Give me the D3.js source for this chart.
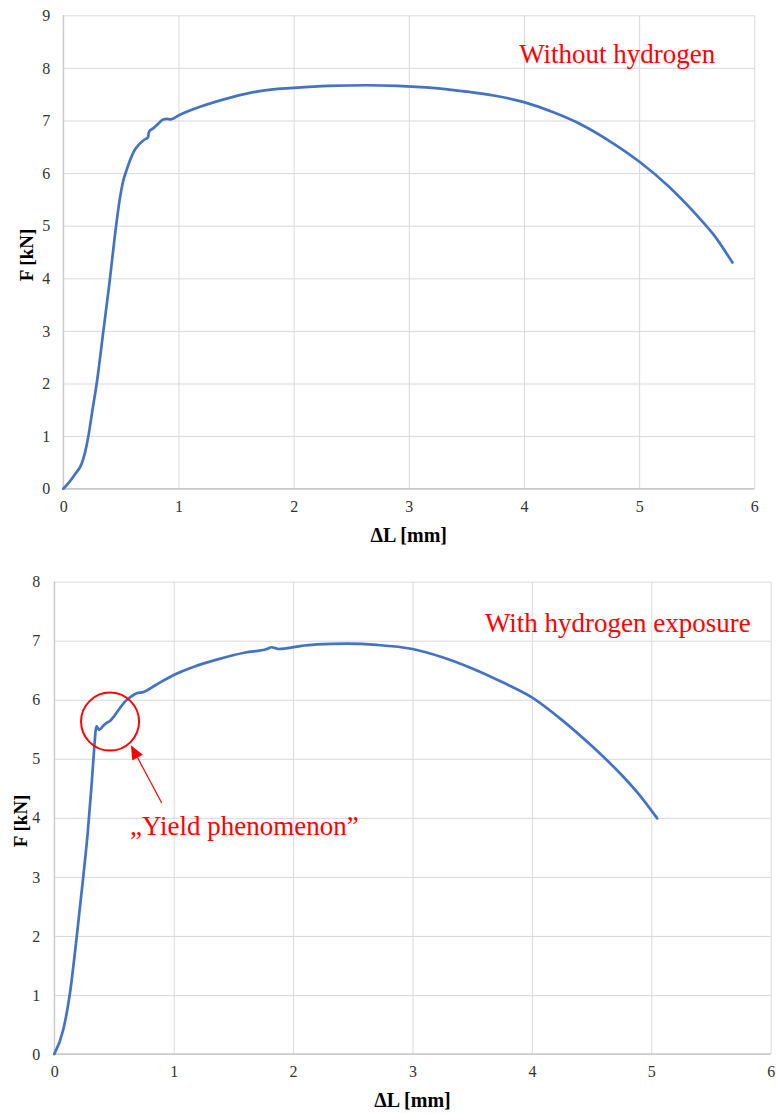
<!DOCTYPE html>
<html>
<head>
<meta charset="utf-8">
<script src="https://cdn.jsdelivr.net/npm/d3@7"></script>
<style>
body{margin:0;background:#fff}
svg text{font-family:"Liberation Serif","Times New Roman",serif}
</style>
</head>
<body>
<svg id="chart" width="777" height="1113" font-family="Liberation Serif, serif"></svg>
<script>
// top curve: without hydrogen
const dlTop = [0, 0.05, 0.10, 0.16, 0.19, 0.217, 0.25, 0.29, 0.347, 0.40, 0.45, 0.49, 0.52, 0.55, 0.58, 0.62, 0.66, 0.70, 0.735, 0.745, 0.78, 0.82, 0.868, 0.90, 0.93, 1.013, 1.187, 1.476, 1.707, 2.0, 2.3, 2.63, 2.9, 3.15, 3.5, 3.75, 4.0, 4.25, 4.5, 4.75, 5.0, 5.25, 5.5, 5.65, 5.81]
const fTop = [0, 0.12, 0.27, 0.48, 0.70, 0.99, 1.45, 2.0, 2.98, 3.90, 4.85, 5.50, 5.85, 6.06, 6.25, 6.44, 6.55, 6.63, 6.68, 6.79, 6.85, 6.93, 7.02, 7.03, 7.02, 7.11, 7.26, 7.45, 7.56, 7.62, 7.66, 7.67, 7.66, 7.63, 7.55, 7.47, 7.35, 7.16, 6.92, 6.60, 6.22, 5.76, 5.20, 4.82, 4.30]

// bottom curve: with hydrogen exposure
const dlBottom = [0, 0.075, 0.131, 0.188, 0.243, 0.28, 0.31, 0.335, 0.347, 0.355, 0.377, 0.41, 0.439, 0.466, 0.50, 0.55, 0.592, 0.64, 0.69, 0.745, 0.85, 1.0, 1.17, 1.36, 1.6, 1.78, 1.82, 1.876, 2.06, 2.2, 2.45, 2.7, 3.0, 3.25, 3.5, 3.75, 4.0, 4.25, 4.5, 4.75, 4.9, 5.05]
const fBottom = [0, 0.41, 1.03, 1.99, 3.01, 3.75, 4.50, 5.20, 5.49, 5.55, 5.49, 5.56, 5.61, 5.64, 5.72, 5.86, 5.97, 6.05, 6.11, 6.13, 6.25, 6.42, 6.56, 6.68, 6.80, 6.86, 6.89, 6.86, 6.91, 6.94, 6.95, 6.93, 6.86, 6.72, 6.53, 6.30, 6.04, 5.66, 5.22, 4.73, 4.39, 3.99]

const xTicks = [0, 1, 2, 3, 4, 5, 6]
const yTicksTop = [0, 1, 2, 3, 4, 5, 6, 7, 8, 9]
const yTicksBottom = [0, 1, 2, 3, 4, 5, 6, 7, 8]

const xTitle = "ΔL [mm]"
const yTitle = "F [kN]"
const labelTop = "Without hydrogen"
const labelBottom = "With hydrogen exposure"
const yieldText = "\u201EYield phenomenon\u201D"

const svg = d3.select("#chart")
const lineColor = "#4472c4"
const gridColor = "#d9d9d9"
const serif = "Liberation Serif, Times New Roman, serif"

function drawPanel(p){
    const x = d3.scaleLinear().domain([0, 6]).range([p.left, p.right])
    const y = d3.scaleLinear().domain([0, d3.max(p.yTicks)]).range([p.bottom, p.top])
    const g = svg.append("g")

    // grid + tick labels
    g.append("g")
        .attr("transform", `translate(0,${p.bottom})`)
        .call(d3.axisBottom(x).tickValues(xTicks).tickFormat(d3.format("d"))
            .tickSize(-(p.bottom - p.top)).tickPadding(12))
        .attr("font-family", serif)
        .call(a => a.select(".domain").remove())
        .call(a => a.selectAll("line").attr("stroke", gridColor))
        .call(a => a.selectAll("text").attr("fill", "#333").style("font-size", "16px"))

    g.append("g")
        .attr("transform", `translate(${p.left},0)`)
        .call(d3.axisLeft(y).tickValues(p.yTicks).tickFormat(d3.format("d"))
            .tickSize(-(p.right - p.left)).tickPadding(p.yPad))
        .attr("font-family", serif)
        .call(a => a.select(".domain").remove())
        .call(a => a.selectAll("line").attr("stroke", gridColor))
        .call(a => a.selectAll("text").attr("fill", "#333").style("font-size", "16px"))

    // axis lines
    g.append("line").attr("x1", p.left).attr("x2", p.right)
        .attr("y1", p.bottom).attr("y2", p.bottom)
        .attr("stroke", "#c8c8c8").attr("stroke-width", 1.5)
    g.append("line").attr("x1", p.left).attr("x2", p.left)
        .attr("y1", p.top).attr("y2", p.bottom)
        .attr("stroke", "#c8c8c8").attr("stroke-width", 1.2)

    const pts = p.dl.map((d, i) => [d, p.f[i]])
    g.append("path")
        .datum(pts)
        .attr("fill", "none")
        .attr("stroke", lineColor)
        .attr("stroke-width", 2.7)
        .attr("stroke-linejoin", "round")
        .attr("stroke-linecap", "round")
        .attr("d", d3.line().x(d => x(d[0])).y(d => y(d[1])).curve(d3.curveMonotoneX))

    // titles
    g.append("text")
        .attr("x", (p.left + p.right) / 2)
        .attr("y", p.bottom + 53)
        .attr("text-anchor", "middle")
        .style("font-size", "20px").style("font-weight", "bold")
        .text(xTitle)
    g.append("text")
        .attr("transform", `translate(${p.yTitleX},${(p.top + p.bottom) / 2 + 3}) rotate(-90)`)
        .attr("text-anchor", "middle")
        .style("font-size", "19px").style("font-weight", "bold")
        .text(yTitle)

    g.append("text")
        .attr("x", x(p.labelPos[0])).attr("y", y(p.labelPos[1]))
        .attr("fill", "#ff0000")
        .style("font-size", "27px")
        .text(p.label)

    return {g, x, y}
}

drawPanel({left: 63.3, right: 754.3, top: 15.3, bottom: 488.7, yTicks: yTicksTop, yPad: 13,
    yTitleX: 33, dl: dlTop, f: fTop, label: labelTop, labelPos: [3.958, 8.09]})

const bottomPanel = drawPanel({left: 54.3, right: 770.7, top: 581.7, bottom: 1054, yTicks: yTicksBottom, yPad: 14,
    yTitleX: 27, dl: dlBottom, f: fBottom, label: labelBottom, labelPos: [3.607, 7.14]})

// yield annotation
const bx = bottomPanel.x, by = bottomPanel.y, bg = bottomPanel.g
bg.append("circle")
    .attr("cx", bx(0.467)).attr("cy", by(5.63)).attr("r", 29)
    .attr("fill", "none").attr("stroke", "#ff0000").attr("stroke-width", 2)

const tail = [bx(0.90), by(4.25)]
const tip = [bx(0.642), by(5.23)]
const ang = Math.atan2(tip[1] - tail[1], tip[0] - tail[0])
const headLen = 14, headW = 6
const base = [tip[0] - headLen * Math.cos(ang), tip[1] - headLen * Math.sin(ang)]
bg.append("line")
    .attr("x1", tail[0]).attr("y1", tail[1]).attr("x2", base[0]).attr("y2", base[1])
    .attr("stroke", "#ff0000").attr("stroke-width", 1.2)
bg.append("path")
    .attr("d", d3.line()([
        tip,
        [base[0] + headW * Math.sin(ang), base[1] - headW * Math.cos(ang)],
        [base[0] - headW * Math.sin(ang), base[1] + headW * Math.cos(ang)]
    ]) + "Z")
    .attr("fill", "#ff0000")

bg.append("text")
    .attr("x", bx(0.634)).attr("y", by(3.71))
    .attr("fill", "#ff0000")
    .style("font-size", "27px")
    .text(yieldText)
</script>
</body>
</html>
